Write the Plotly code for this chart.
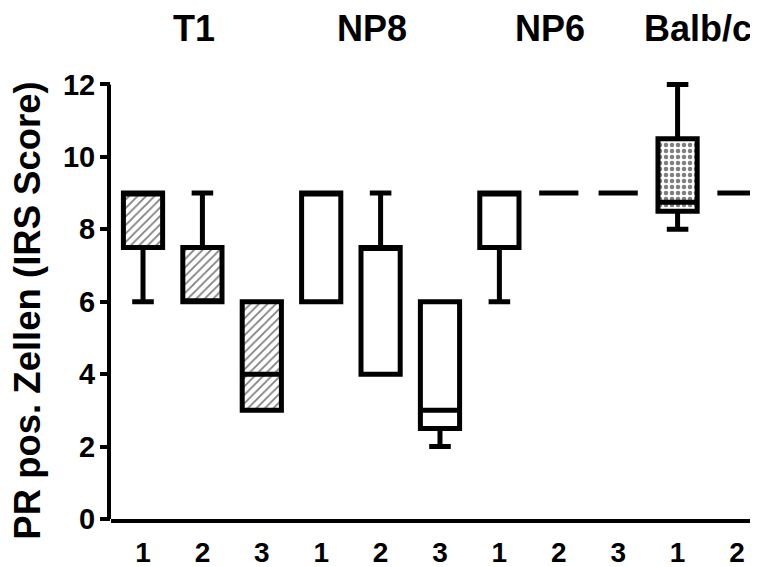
import plotly.graph_objects as go

# ---- data ----
groups = ["T1", "NP8", "NP6", "Balb/c"]
group_sizes = [3, 3, 3, 2]
tick_labels = ["1", "2", "3", "1", "2", "3", "1", "2", "3", "1", "2"]
cat_ids = ["T1-1", "T1-2", "T1-3", "NP8-1", "NP8-2", "NP8-3",
           "NP6-1", "NP6-2", "NP6-3", "Balb/c-1", "Balb/c-2"]
q1 = [7.5, 6.0, 3.0, 6.0, 4.0, 2.5, 7.5, 9.0, 9.0, 8.5, 9.0]
median = [9.0, 6.0, 4.0, 9.0, 7.5, 3.0, 9.0, 9.0, 9.0, 8.75, 9.0]
q3 = [9.0, 7.5, 6.0, 9.0, 7.5, 6.0, 9.0, 9.0, 9.0, 10.5, 9.0]
low = [6.0, 6.0, 3.0, 6.0, 4.0, 2.0, 6.0, 9.0, 9.0, 8.0, 9.0]
high = [9.0, 9.0, 6.0, 9.0, 9.0, 6.0, 9.0, 9.0, 9.0, 12.0, 9.0]
# fill pattern per box ("" = plain white)
patterns = ["/", "/", "/", "", "", "", "", "", "", ".", ""]

FONT = "Liberation Sans, Arial, sans-serif"
BOXW = 0.66

fig = go.Figure()

# patterned fills (drawn under the box outlines)
for i, pat in enumerate(patterns):
    if not pat:
        continue
    fig.add_trace(go.Bar(
        x=[cat_ids[i]], y=[q3[i] - q1[i]], base=[q1[i]], width=BOXW,
        marker=dict(color="white", line=dict(width=0),
                    pattern=dict(shape=pat, fgcolor="black", bgcolor="white",
                                 size=6,
                                 solidity=0.3 if pat == "/" else 0.45)),
        showlegend=False, hoverinfo="skip"))

fig.add_trace(go.Box(
    x=cat_ids, q1=q1, median=median, q3=q3,
    lowerfence=low, upperfence=high,
    width=BOXW, whiskerwidth=0.55, boxpoints=False,
    fillcolor="rgba(0,0,0,0)",
    line=dict(color="black", width=5),
    showlegend=False))

# group labels
annotations = []
start = 0
for g, n in zip(groups, group_sizes):
    center = start + (n - 1) / 2 - 0.15
    annotations.append(dict(
        x=center, y=1.0935, xref="x", yref="paper", text=g, showarrow=False,
        xanchor="center", yanchor="middle",
        font=dict(family=FONT, size=36, color="black", weight="bold")))
    start += n

# y axis title
annotations.append(dict(
    x=-0.129, y=0.463, xref="paper", yref="paper",
    text="PR pos. Zellen (IRS Score)", textangle=-90, showarrow=False,
    xanchor="center", yanchor="middle",
    font=dict(family=FONT, size=36.5, color="black", weight="bold")))

# page body has an 8px margin; figure is sized/offset to fill the 758x567 view
fig.update_layout(
    width=750, height=559,
    margin=dict(l=103, r=0, t=62, b=48, autoexpand=False),
    paper_bgcolor="white", plot_bgcolor="white",
    barmode="overlay",
    annotations=annotations,
    shapes=[dict(type="line", xref="paper", xsizemode="pixel", xanchor=0,
                 x0=-2, x1=-2, yref="y", y0=0, y1=12,
                 line=dict(color="black", width=4))],
    xaxis=dict(type="category", categoryorder="array", categoryarray=cat_ids,
               tickmode="array", tickvals=cat_ids,
               ticktext=tick_labels, range=[-0.539, 10.354],
               showline=True, linecolor="black", linewidth=4, automargin=False,
               ticks="", showgrid=False, zeroline=False, ticklabelstandoff=5,
               tickfont=dict(family=FONT, size=28, color="black", weight="bold")),
    yaxis=dict(range=[0, 12.4], tickvals=[0, 2, 4, 6, 8, 10, 12],
               showline=False, ticks="outside", ticklen=10, tickwidth=4,
               tickcolor="black", showgrid=False, zeroline=False, automargin=False,
               ticklabelstandoff=-1,
               tickfont=dict(family=FONT, size=29, color="black", weight="bold")),
)

fig.write_html("out.html")
